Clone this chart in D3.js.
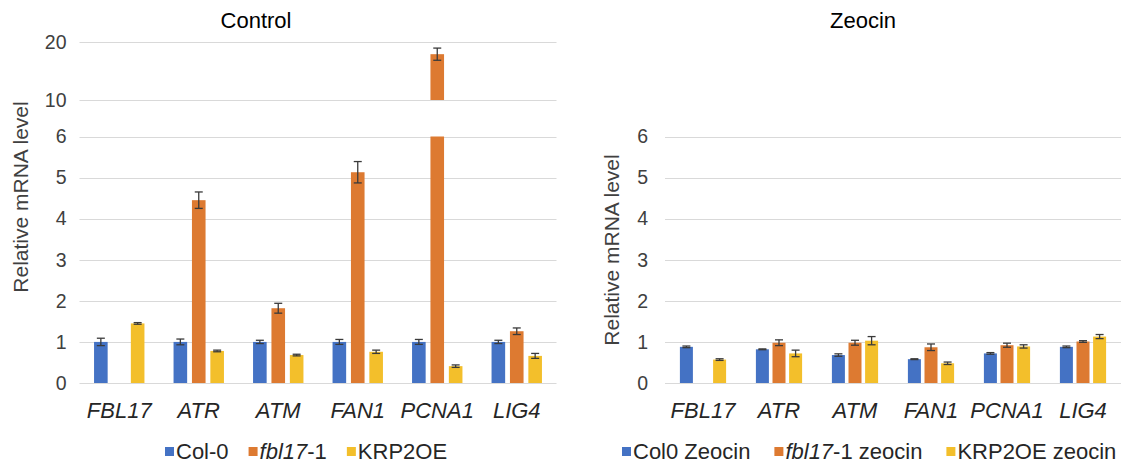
<!DOCTYPE html>
<html><head><meta charset="utf-8">
<script src="https://cdn.jsdelivr.net/npm/d3@7"></script>
<style>
html,body{margin:0;padding:0;background:#fff;}
text{font-family:"Liberation Sans",Arial,sans-serif;}
</style></head>
<body><svg id="c" width="1131" height="466"></svg>
<script>
const genes = ["FBL17","ATR","ATM","FAN1","PCNA1","LIG4"];
const controlSeries = ["Col-0","fbl17-1","KRP2OE"];
const zeocinSeries = ["Col0 Zeocin","fbl17-1 zeocin","KRP2OE zeocin"];
const colors = ["#4472C4","#DD7A31","#F3BF2B"];

// Control values / errors (null = not measured)
const ctrlCol0 = [1.0,1.0,1.0,1.0,1.0,1.0];
const ctrlCol0Err = [0.09,0.07,0.04,0.06,0.06,0.04];
const ctrlFbl = [null,4.45,1.82,5.13,17.9,1.26];
const ctrlFblErr = [null,0.2,0.12,0.26,1.05,0.08];
const ctrlKrp = [1.45,0.78,0.68,0.76,0.41,0.66];
const ctrlKrpErr = [0.02,0.02,0.02,0.04,0.03,0.06];

// Zeocin values / errors
const zeoCol0 = [0.88,0.82,0.68,0.58,0.72,0.88];
const zeoCol0Err = [0.02,0.01,0.03,0.01,0.02,0.02];
const zeoFbl = [null,0.98,0.98,0.87,0.92,1.01];
const zeoFblErr = [null,0.07,0.06,0.08,0.05,0.02];
const zeoKrp = [0.57,0.72,1.03,0.48,0.89,1.13];
const zeoKrpErr = [0.02,0.08,0.1,0.03,0.04,0.05];

const ctrlTicks = [0,1,2,3,4,5,6,10,20];
const zeoTicks = [0,1,2,3,4,5,6];

const svg = d3.select("#c");

function panel(opt){
  const g = svg.append("g");
  const y = d3.scaleLinear().domain(opt.yDomain).range(opt.yRange);
  const x = d3.scaleBand().domain(genes).range(opt.xRange).paddingInner(0).paddingOuter(0);
  const xs = d3.scaleBand().domain([0,1,2]).range([-opt.step*1.5, opt.step*1.5]);
  // gridlines
  g.append("g").selectAll("line").data(opt.ticks).join("line")
    .attr("x1",opt.xRange[0]).attr("x2",opt.xRange[1])
    .attr("y1",d=>Math.round(y(d))+0.5).attr("y2",d=>Math.round(y(d))+0.5)
    .attr("stroke","#d9d9d9").attr("stroke-width",1.2);
  // y tick labels via axis
  const ax = g.append("g").attr("transform",`translate(${opt.xRange[0]},0)`)
    .call(d3.axisLeft(y).tickValues(opt.ticks).tickFormat(d3.format("d")).tickSize(0).tickPadding(opt.tickPad));
  ax.select(".domain").remove();
  ax.selectAll("text").attr("font-size",19.5).attr("fill","#404040")
    .attr("font-family","'Liberation Sans',Arial,sans-serif");
  // bars
  const series = opt.series;
  series.forEach((s,si)=>{
    s.vals.forEach((v,gi)=>{
      if(v==null) return;
      const cx = x(genes[gi]) + x.bandwidth()/2 + xs(si) + xs.bandwidth()/2;
      const bw = opt.barW;
      let segs = [[0,v]];
      if(opt.brk && v>opt.brk[0]) segs = [[0,opt.brk[0]],[opt.brk[1],v]];
      segs.forEach(sg=>{
        g.append("rect").attr("x",cx-bw/2).attr("width",bw)
          .attr("y",y(sg[1])).attr("height",y(sg[0])-y(sg[1]))
          .attr("fill",colors[si]);
      });
      const e = s.errs[gi];
      const y1 = y(v+e), y2 = y(v-e), cw = 4;
      const eg = g.append("g").attr("stroke","#3a3a3a").attr("stroke-width",1.3);
      eg.append("line").attr("x1",cx).attr("x2",cx).attr("y1",y1).attr("y2",y2);
      eg.append("line").attr("x1",cx-cw).attr("x2",cx+cw).attr("y1",y1).attr("y2",y1);
      eg.append("line").attr("x1",cx-cw).attr("x2",cx+cw).attr("y1",y2).attr("y2",y2);
    });
  });
  // category labels
  g.append("g").selectAll("text").data(genes).join("text")
    .attr("x",d=>x(d)+x.bandwidth()/2).attr("y",418)
    .attr("text-anchor","middle").attr("font-style","italic")
    .attr("font-size",22).attr("fill","#262626").text(d=>d);
  // title
  g.append("text").attr("x",opt.titleX).attr("y",28).attr("text-anchor","middle")
    .attr("font-size",22).attr("fill","#000").text(opt.title);
  // y axis title
  g.append("text").attr("transform",`translate(${opt.yTitleX},${opt.yTitleY}) rotate(-90)`)
    .attr("text-anchor","middle").attr("font-size",21).attr("fill","#404040")
    .text("Relative mRNA level");
  // legend
  const lg = g.append("g");
  let lx = opt.legendX;
  opt.legendNames.forEach((n,i)=>{
    lg.append("rect").attr("x",lx).attr("y",447).attr("width",9).attr("height",9).attr("fill",colors[i]);
    const t = lg.append("text").attr("x",lx+11).attr("y",459).attr("font-size",opt.legendFont).attr("fill","#262626");
    if(n.startsWith("fbl17")){
      t.append("tspan").attr("font-style","italic").text("fbl17");
      t.append("tspan").text(n.slice(5));
    } else t.text(n);
    lx += 11 + t.node().getComputedTextLength() + opt.legendGap;
  });
}

panel({
  yDomain:[0,6,10,20], yRange:[383,136.5,100,42], ticks:ctrlTicks, brk:[6,10],
  xRange:[79.5,556.5], step:18.4, barW:13.6, tickPad:13,
  series:[{vals:ctrlCol0,errs:ctrlCol0Err},{vals:ctrlFbl,errs:ctrlFblErr},{vals:ctrlKrp,errs:ctrlKrpErr}],
  title:"Control", titleX:256, yTitleX:28, yTitleY:197,
  legendNames:controlSeries, legendX:165, legendGap:20, legendFont:22
});
panel({
  yDomain:[0,6], yRange:[383,136.5], ticks:zeoTicks, brk:null,
  xRange:[665,1121], step:16.6, barW:13, tickPad:17,
  series:[{vals:zeoCol0,errs:zeoCol0Err},{vals:zeoFbl,errs:zeoFblErr},{vals:zeoKrp,errs:zeoKrpErr}],
  title:"Zeocin", titleX:863, yTitleX:619, yTitleY:250,
  legendNames:zeocinSeries, legendX:622, legendGap:24, legendFont:22
});
</script></body></html>
